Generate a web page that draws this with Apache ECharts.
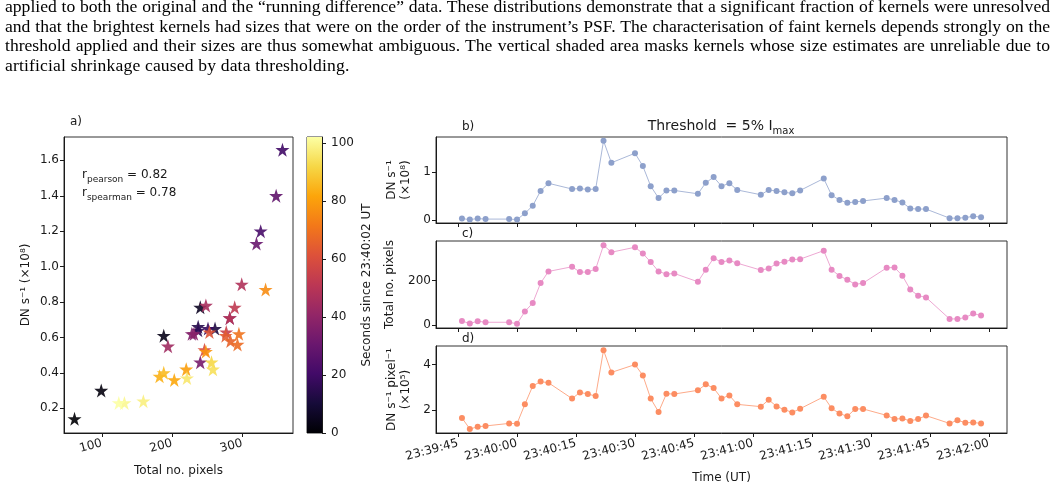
<!DOCTYPE html>
<html>
<head>
<meta charset="utf-8">
<script src="https://cdn.jsdelivr.net/npm/echarts@6.0.0/dist/echarts.min.js"></script>
<style>
  html, body { margin: 0; padding: 0; background: #fff; }
  #wrap { position: relative; width: 1056px; height: 490px; overflow: hidden; }
  #main { position: absolute; left: 0; top: 0; width: 1056px; height: 490px; }
  #caption { position: absolute; left: 5px; top: -3px; width: 1045px; z-index: 2;
    font-family: 'Liberation Serif', serif; font-size: 17.6px; line-height: 19.6px; color: #000; }
  #caption div { text-align: justify; text-align-last: justify; white-space: nowrap; word-spacing: -1px; }
  #caption div.last { text-align-last: left; word-spacing: 0; letter-spacing: 0.15px; }
</style>
</head>
<body>
<div id="wrap">
  <div id="main"></div>
  <div id="caption">
    <div>applied to both the original and the “running difference” data. These distributions demonstrate that a significant fraction of kernels were unresolved</div>
    <div>and that the brightest kernels had sizes that were on the order of the instrument’s PSF. The characterisation of faint kernels depends strongly on the</div>
    <div>threshold applied and their sizes are thus somewhat ambiguous. The vertical shaded area masks kernels whose size estimates are unreliable due to</div>
    <div class="last">artificial shrinkage caused by data thresholding.</div>
  </div>
</div>
<script type="text/javascript">
// observation times (UT)
var times = ['23:39:46','23:39:48','23:39:50','23:39:52','23:39:58','23:40:00','23:40:02','23:40:04','23:40:06','23:40:08',
  '23:40:14','23:40:16','23:40:18','23:40:20','23:40:22','23:40:24','23:40:30','23:40:32','23:40:34','23:40:36',
  '23:40:38','23:40:40','23:40:46','23:40:48','23:40:50','23:40:52','23:40:54','23:40:56','23:41:02','23:41:04',
  '23:41:06','23:41:08','23:41:10','23:41:12','23:41:18','23:41:20','23:41:22','23:41:24','23:41:26','23:41:28',
  '23:41:34','23:41:36','23:41:38','23:41:40','23:41:42','23:41:44','23:41:50','23:41:52','23:41:54','23:41:56','23:41:58']
// DN s^-1 (x10^8)
var dnRate = [0.03,0.01,0.03,0.02,0.02,0.01,0.14,0.30,0.61,0.77,0.65,0.66,0.64,0.65,1.66,1.20,1.40,1.13,0.71,0.46,
  0.62,0.62,0.55,0.78,0.90,0.71,0.77,0.63,0.53,0.63,0.61,0.58,0.56,0.62,0.87,0.52,0.42,0.36,0.38,0.40,
  0.46,0.42,0.37,0.24,0.23,0.23,0.04,0.04,0.05,0.08,0.06]
// total no. pixels
var pixels = [19,7,18,13,13,6,61,99,188,240,261,237,237,251,357,326,348,320,282,240,
  228,231,194,248,299,282,289,277,246,253,276,283,293,295,333,248,220,203,182,188,
  256,258,221,159,132,124,28,28,34,52,43]
// DN s^-1 pixel^-1 (x10^5)
var dnPerPix = [1.67,1.19,1.28,1.32,1.43,1.42,2.26,3.06,3.25,3.20,2.51,2.78,2.71,2.62,4.62,3.65,3.99,3.52,2.51,1.93,
  2.72,2.71,2.87,3.13,2.97,2.52,2.65,2.26,2.16,2.46,2.17,2.03,1.91,2.07,2.59,2.09,1.86,1.74,2.06,2.06,
  1.78,1.62,1.64,1.54,1.62,1.77,1.43,1.57,1.46,1.47,1.43]
var timeTicks = ['23:39:45','23:40:00','23:40:15','23:40:30','23:40:45','23:41:00','23:41:15','23:41:30','23:41:45','23:42:00']
var pixTicks = [100, 200, 300]
var rateTicks = [0.2, 0.4, 0.6, 0.8, 1.0, 1.2, 1.4, 1.6]
var cbTicks = [0, 20, 40, 60, 80, 100]
var scatterStart = '23:40:02'
var scatterEnd = '23:41:44'
var inferno = ['#000004','#160b39','#420a68','#6a176e','#932667','#bc3754','#dd513a','#f37819','#fca50a','#f6d746','#fcffa4']

function toSec(s) {
	var p = s.split(':')
	return (+p[0]) * 3600 + (+p[1]) * 60 + (+p[2]) - (23 * 3600 + 40 * 60)
}
var t0 = toSec(scatterStart)
var cbMax = toSec(scatterEnd) - t0

var scatterData = []
times.forEach(function (t, i) {
	var dt = toSec(t) - t0
	if (dt >= 0 && dt <= cbMax) scatterData.push([pixels[i], dnRate[i], dt])
})
function series(vals) {
	return times.map(function (t, i) { return [toSec(t), vals[i]] })
}
var tickSecs = timeTicks.map(toSec)
function timeFmt(v) {
	var k = tickSecs.indexOf(Math.round(v))
	return k >= 0 ? timeTicks[k] : ''
}

var ink = '#1a1a1a'
function axis(grid, min, max, ticks, opts) {
	opts = opts || {}
	return {
		type: 'value', gridIndex: grid, min: min, max: max,
		position: opts.position,
		name: opts.name, nameLocation: 'middle', nameGap: opts.nameGap || 30,
		nameRotate: opts.nameRotate,
		nameTextStyle: { fontSize: 12, color: ink, lineHeight: 14, fontFamily: 'DejaVu Sans' },
		axisLine: { show: true, onZero: false, lineStyle: { color: ink, width: 1 } },
		axisTick: { show: true, length: 4, customValues: ticks, lineStyle: { color: ink } },
		axisLabel: { show: opts.label !== false, customValues: ticks, formatter: opts.fmt,
			rotate: opts.rotate || 0, color: ink, fontSize: 12, margin: opts.margin || 5, fontFamily: 'DejaVu Sans' },
		splitLine: { show: false }
	}
}

var star = 'path://M50,0 L61.2,34.5 L97.6,34.5 L68.2,55.9 L79.4,90.5 L50,69.1 L20.6,90.5 L31.8,55.9 L2.4,34.5 L38.8,34.5 Z'
var box = { show: true, borderColor: '#333', borderWidth: 1, backgroundColor: 'transparent' }

var myChart = echarts.init(document.getElementById('main'))
myChart.setOption({
	animation: false,
	backgroundColor: '#fff',
	textStyle: { fontFamily: 'DejaVu Sans' },
	grid: [
		Object.assign({ left: 64, top: 137, width: 229, height: 296 }, box),
		Object.assign({ left: 307, top: 137, width: 15, height: 296 }, box),
		Object.assign({ left: 436, top: 137, width: 571, height: 86 }, box),
		Object.assign({ left: 436, top: 241, width: 571, height: 87 }, box),
		Object.assign({ left: 436, top: 346, width: 571, height: 87 }, box)
	],
	xAxis: [
		axis(0, 46, 372, pixTicks, { rotate: 15, name: 'Total no. pixels', nameGap: 31, margin: 10 }),
		{ type: 'category', gridIndex: 1, data: [''], show: false },
		axis(2, -20.6, 124.6, tickSecs, { label: false }),
		axis(3, -20.6, 124.6, tickSecs, { label: false }),
		axis(4, -20.6, 124.6, tickSecs, { rotate: 15, fmt: timeFmt, name: 'Time (UT)', nameGap: 38, margin: 10 })
	],
	yAxis: [
		axis(0, 0.06, 1.732, rateTicks, { fmt: function (v) { return v.toFixed(1) }, name: 'DN s⁻¹ (×10⁸)', nameGap: 31 }),
		axis(1, 0, cbMax, cbTicks, { position: 'right', name: 'Seconds since 23:40:02 UT', nameGap: 38, nameRotate: 90, margin: 9 }),
		axis(2, -0.062, 1.74, [0, 1], { name: 'DN s⁻¹\n(×10⁸)', nameGap: 21 }),
		axis(3, -12.6, 376, [0, 200], { name: 'Total no. pixels', nameGap: 32 }),
		axis(4, 1.013, 4.8, [2, 4], { name: 'DN s⁻¹ pixel⁻¹\n(×10⁵)', nameGap: 21 })
	],
	visualMap: {
		show: false, type: 'continuous', seriesIndex: 0, dimension: 2,
		min: 0, max: cbMax, inRange: { color: inferno }
	},
	series: [
		{
			type: 'scatter', xAxisIndex: 0, yAxisIndex: 0, data: scatterData,
			symbol: star, symbolSize: 14, itemStyle: { opacity: 0.9 }
		},
		{
			type: 'bar', xAxisIndex: 1, yAxisIndex: 1, data: [cbMax], barWidth: '100%', silent: true,
			itemStyle: { color: { type: 'linear', x: 0, y: 1, x2: 0, y2: 0,
				colorStops: inferno.map(function (c, i) { return { offset: i / (inferno.length - 1), color: c } }) } }
		},
		{
			type: 'line', xAxisIndex: 2, yAxisIndex: 2, data: series(dnRate),
			symbol: 'circle', symbolSize: 6, color: '#8da0cb', lineStyle: { width: 1, opacity: 0.75 }
		},
		{
			type: 'line', xAxisIndex: 3, yAxisIndex: 3, data: series(pixels),
			symbol: 'circle', symbolSize: 6, color: '#e78ac3', lineStyle: { width: 1, opacity: 0.75 }
		},
		{
			type: 'line', xAxisIndex: 4, yAxisIndex: 4, data: series(dnPerPix),
			symbol: 'circle', symbolSize: 6, color: '#fc8d62', lineStyle: { width: 1, opacity: 0.75 }
		}
	],
	graphic: [
		{ type: 'text', x: 70, y: 122, style: { text: 'a)', font: '12px DejaVu Sans', fill: ink, verticalAlign: 'middle' } },
		{ type: 'text', x: 462, y: 127, style: { text: 'b)', font: '12px DejaVu Sans', fill: ink, verticalAlign: 'middle' } },
		{ type: 'text', x: 462, y: 234, style: { text: 'c)', font: '12px DejaVu Sans', fill: ink, verticalAlign: 'middle' } },
		{ type: 'text', x: 462, y: 339, style: { text: 'd)', font: '12px DejaVu Sans', fill: ink, verticalAlign: 'middle' } },
		{ type: 'text', x: 721, y: 126, style: {
			text: '{n|Threshold  = 5% I}{s|max}', align: 'center', verticalAlign: 'middle', fill: ink,
			rich: { n: { fontSize: 14, lineHeight: 20, verticalAlign: 'middle', fontFamily: 'DejaVu Sans' },
				s: { fontSize: 10, lineHeight: 20, verticalAlign: 'bottom', fontFamily: 'DejaVu Sans' } } } },
		{ type: 'text', x: 82, y: 175, style: {
			text: '{n|r}{s|pearson}{n| = 0.82}', verticalAlign: 'middle', fill: ink,
			rich: { n: { fontSize: 12, lineHeight: 18, verticalAlign: 'middle', fontFamily: 'DejaVu Sans' },
				s: { fontSize: 9, lineHeight: 18, verticalAlign: 'bottom', fontFamily: 'DejaVu Sans' } } } },
		{ type: 'text', x: 82, y: 193, style: {
			text: '{n|r}{s|spearman}{n| = 0.78}', verticalAlign: 'middle', fill: ink,
			rich: { n: { fontSize: 12, lineHeight: 18, verticalAlign: 'middle', fontFamily: 'DejaVu Sans' },
				s: { fontSize: 9, lineHeight: 18, verticalAlign: 'bottom', fontFamily: 'DejaVu Sans' } } } }
	]
})
</script>
</body>
</html>
